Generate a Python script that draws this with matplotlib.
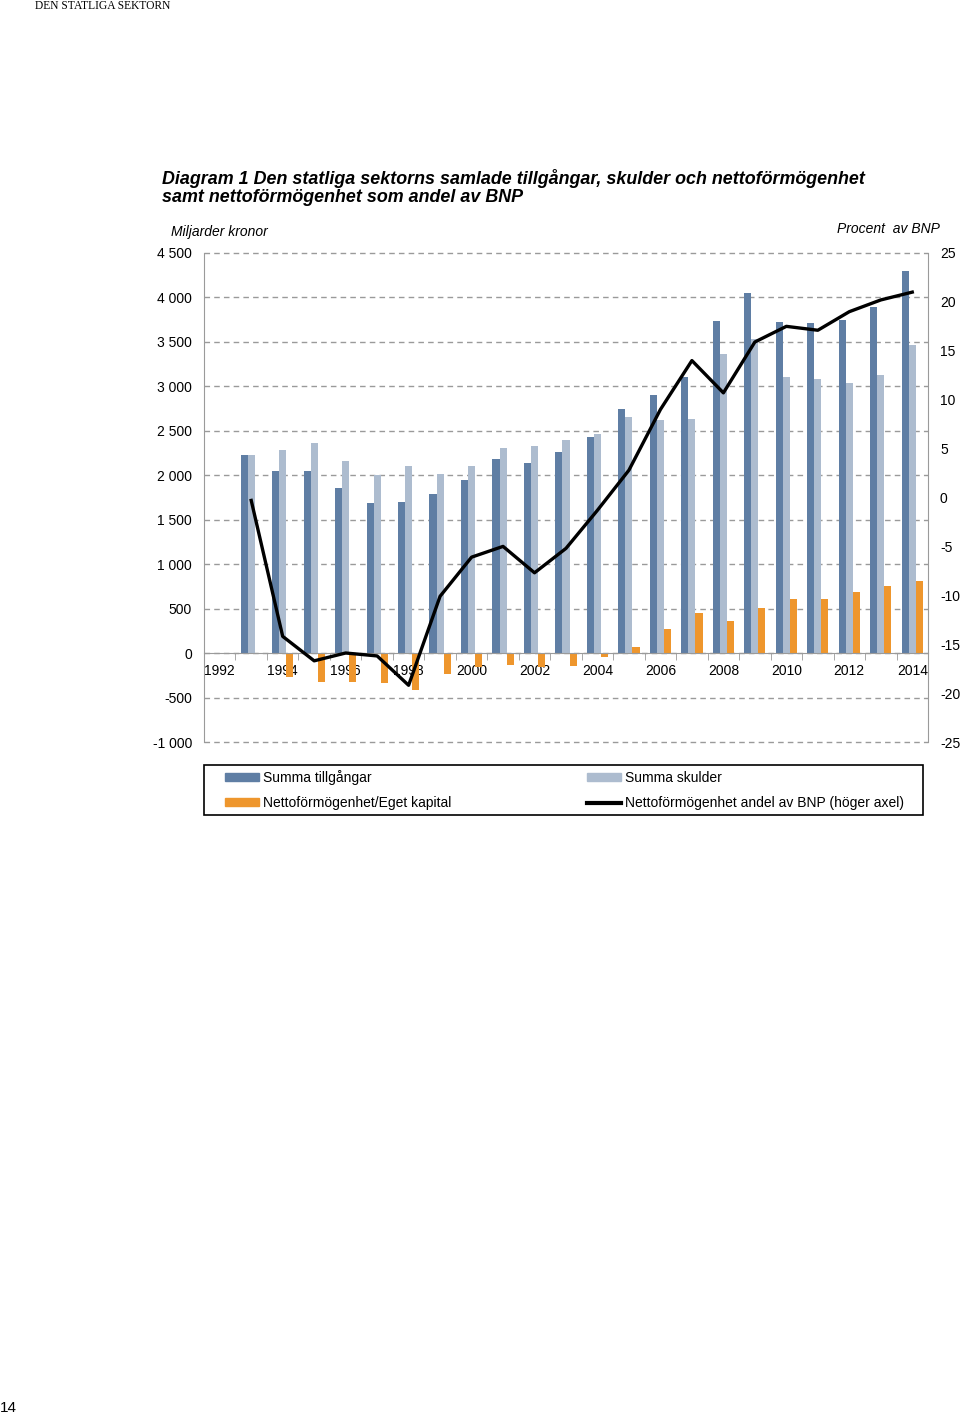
import matplotlib
matplotlib.use("Agg")
import matplotlib.pyplot as plt
import matplotlib.patches as mpatches
from matplotlib.lines import Line2D
import numpy as np

plt.rcParams['font.family'] = ['Liberation Sans', 'DejaVu Sans']

# data, 1992 has no values
years = list(range(1992, 2015))
tillgangar = [np.nan, 2224, 2044, 2044, 1860, 1684, 1703, 1789, 1950, 2186, 2134, 2261,
              2434, 2745, 2906, 3101, 3739, 4046, 3720, 3712, 3746, 3889, 4298]
skulder = [np.nan, 2224, 2288, 2359, 2164, 2003, 2108, 2014, 2100, 2310, 2329, 2396,
           2464, 2659, 2618, 2636, 3364, 3530, 3101, 3086, 3041, 3128, 3469]
netto = [np.nan, 0, -266, -330, -323, -341, -416, -240, -161, -135, -161, -150,
         -41, 71, 270, 454, 356, 506, 607, 611, 690, 754, 810]
andel_bnp = [np.nan, -0.3, -14.2, -16.7, -15.9, -16.2, -19.2, -10.1, -6.1, -5.0, -7.7, -5.2,
             -1.3, 2.8, 9.0, 14.0, 10.7, 15.9, 17.5, 17.1, 19.0, 20.2, 21.0]

c_dark = '#5f7ea4'
c_light = '#adbccf'
c_orange = '#ee962d'
c_grid = '#9a9a9a'

fig = plt.figure(figsize=(9.6, 14.16), dpi=100)
ax = fig.add_axes([204/960, 1-742/1416, (928-204)/960, (742-253)/1416])
ax2 = ax.twinx()

x = np.arange(len(years))
w = 0.225
ax.bar(x - w, tillgangar, w, color=c_dark, zorder=2)
ax.bar(x, skulder, w, color=c_light, zorder=2)
ax.bar(x + w, netto, w, color=c_orange, zorder=2)
ax2.plot(x, andel_bnp, color='black', lw=2.4, zorder=3)

# left axis
ax.set_xlim(-0.5, len(years) - 0.5)
ax.set_ylim(-1000, 4500)
yt = np.arange(-1000, 4501, 500)
ax.set_yticks(yt)
ax.set_yticklabels([f"{v:,}".replace(",", " ") for v in yt], fontsize=10)
ax.tick_params(axis='y', length=0, pad=8.6)
ax.yaxis.grid(True, color=c_grid, ls=(0, (4, 3)), lw=1)
ax.set_axisbelow(True)
for gl in ax.get_ygridlines():
    gl.set_clip_on(False)

# x axis on the zero line
ax.spines['bottom'].set_position(('data', 0))
ax.spines['bottom'].set_color(c_grid)
ax.spines['top'].set_visible(False)
ax.spines['right'].set_visible(False)
ax.spines['left'].set_color(c_grid)
ax.set_xticks(x[::2])
ax.set_xticklabels([str(y) for y in years[::2]], fontsize=10)
ax.tick_params(axis='x', which='major', length=0, pad=8)
ax.set_xticks(np.arange(-0.5, len(years), 1), minor=True)
ax.tick_params(axis='x', which='minor', length=5, color=c_grid, direction='out')

# right axis
ax2.set_ylim(-25, 25)
ax2.set_yticks(np.arange(-25, 26, 5))
ax2.set_yticklabels([str(v) for v in range(-25, 26, 5)], fontsize=10)
ax2.tick_params(axis='y', length=0, pad=8.6)
for s in ['top', 'bottom', 'left']:
    ax2.spines[s].set_visible(False)
ax2.spines['right'].set_color(c_grid)

# texts
fig.text(35/960, 1-6/1416, 'DEN STATLIGA SEKTORN', family='Liberation Serif', fontsize=8.3, va='center')
fig.text(162/960, 1-178/1416, 'Diagram 1 Den statliga sektorns samlade tillgångar, skulder och nettoförmögenhet',
         fontsize=12.85, fontweight='bold', fontstyle='italic', va='center')
fig.text(162/960, 1-198/1416, 'samt nettoförmögenhet som andel av BNP',
         fontsize=12.85, fontweight='bold', fontstyle='italic', va='center')
fig.text(171/960, 1-232/1416, 'Miljarder kronor', fontsize=10, fontstyle='italic', va='center')
fig.text(940/960, 1-229/1416, 'Procent  av BNP', fontsize=10, fontstyle='italic', va='center', ha='right')
fig.text(0/960, 1-1408/1416, '14', fontsize=11, va='center')

# legend, frame drawn separately
handles = [mpatches.Patch(color=c_dark, label='Summa tillgångar'),
           mpatches.Patch(color=c_orange, label='Nettoförmögenhet/Eget kapital'),
           mpatches.Patch(color=c_light, label='Summa skulder'),
           Line2D([], [], color='black', lw=3, label='Nettoförmögenhet andel av BNP (höger axel)')]
fig.legend(handles=handles, ncol=2, loc='upper left',
           bbox_to_anchor=(225/960, 1-770/1416), frameon=False,
           fontsize=10, handlelength=2.45, handleheight=0.45, handletextpad=0.3,
           borderpad=0, labelspacing=0.8, borderaxespad=0, columnspacing=9.75)
fig.patches.append(mpatches.Rectangle((204/960, 1-815/1416), (923-204)/960, 50/1416,
                                      transform=fig.transFigure, fill=False,
                                      edgecolor='black', lw=1.2))

fig.savefig('out.png', dpi=100)
